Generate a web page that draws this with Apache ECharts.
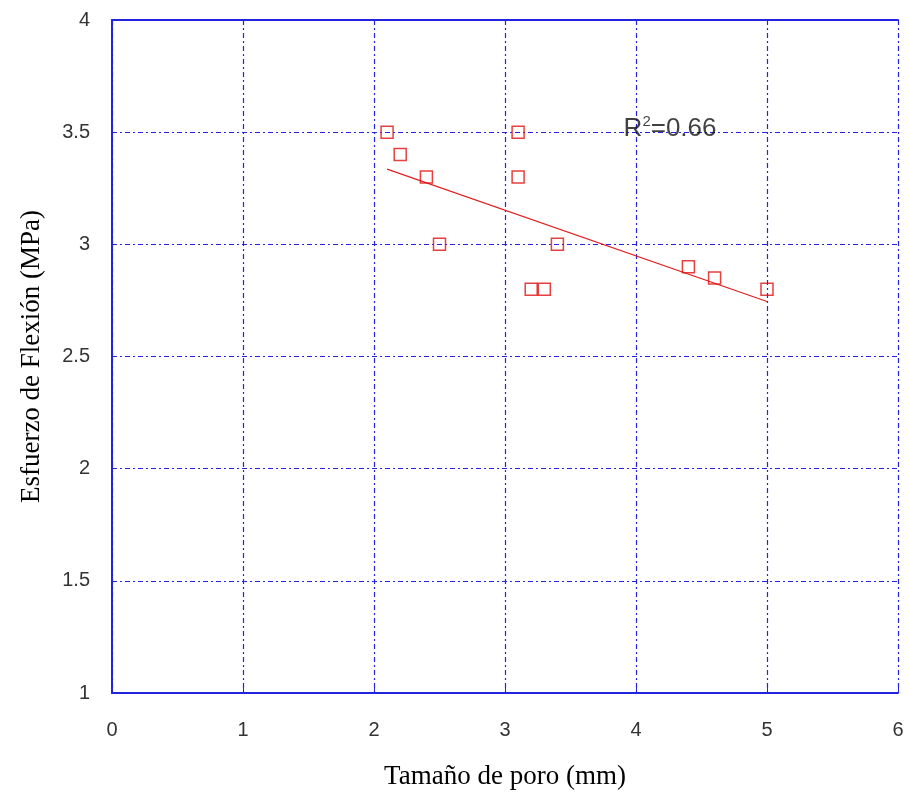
<!DOCTYPE html>
<html>
<head>
<meta charset="utf-8">
<script src="https://cdn.jsdelivr.net/npm/echarts@6/dist/echarts.min.js"></script>
<style>
  html, body { margin: 0; padding: 0; background: #fff; }
  #chart { width: 909px; height: 794px; }
</style>
</head>
<body>
<div id="chart"></div>
<script>
// datos
const poreSize = [2.1, 2.2, 2.4, 2.5, 3.1, 3.1, 3.2, 3.3, 3.4, 4.4, 4.6, 5.0]
const flexStress = [3.5, 3.4, 3.3, 3.0, 3.5, 3.3, 2.8, 2.8, 3.0, 2.9, 2.85, 2.8]
const trendX = [2.1, 5.0]
const trendY = [3.335, 2.745]
const r2Pos = [4.26, 3.515]

const blue = '#2424e0'
const gridLine = { lineStyle: { color: blue, width: 1.2, type: [5, 3, 2, 3] } }
const boxAxis = { show: true, lineStyle: { color: blue, width: 2 } }

const myChart = echarts.init(document.getElementById('chart'))
myChart.setOption({
  animation: false,
  grid: { left: 112, right: 11, top: 20, bottom: 101, containLabel: false, outerBoundsMode: 'none' },
  xAxis: [{
    type: 'value',
    min: 0,
    max: 6,
    interval: 1,
    name: 'Tamaño de poro (mm)',
    nameLocation: 'middle',
    nameGap: 70,
    nameTextStyle: { fontFamily: 'Liberation Serif', fontSize: 27, color: '#000' },
    axisLine: boxAxis,
    axisTick: { show: true, inside: true, length: 8, lineStyle: { color: blue } },
    axisLabel: { margin: 27, fontFamily: 'Liberation Sans', fontSize: 20, color: '#333' },
    splitLine: gridLine
  }, {
    // borde superior
    type: 'value', position: 'top', min: 0, max: 6,
    axisLine: boxAxis, axisTick: { show: false }, axisLabel: { show: false }, splitLine: { show: false }
  }],
  yAxis: [{
    type: 'value',
    min: 1,
    max: 4,
    interval: 0.5,
    name: 'Esfuerzo de Flexión (MPa)',
    nameLocation: 'middle',
    nameGap: 67,
    nameTextStyle: { fontFamily: 'Liberation Serif', fontSize: 27, color: '#000' },
    axisLine: boxAxis,
    axisTick: { show: false },
    axisLabel: { margin: 22, fontFamily: 'Liberation Sans', fontSize: 20, color: '#333' },
    splitLine: gridLine
  }, {
    // borde derecho
    type: 'value', position: 'right', min: 1, max: 4,
    axisLine: boxAxis, axisTick: { show: false }, axisLabel: { show: false }, splitLine: { show: false }
  }],
  series: [
    {
      type: 'scatter',
      symbol: 'rect',
      symbolSize: 12,
      itemStyle: { color: 'transparent', borderColor: '#e01010', borderWidth: 1.5 },
      data: poreSize.map((x, i) => [x, flexStress[i]]),
      z: 3
    },
    {
      type: 'line',
      showSymbol: false,
      symbol: 'none',
      lineStyle: { color: '#e02020', width: 1.2 },
      data: trendX.map((x, i) => [x, trendY[i]]),
      z: 2
    },
    {
      type: 'scatter',
      symbol: 'circle',
      symbolSize: 2,
      itemStyle: { color: 'transparent' },
      data: [r2Pos],
      label: {
        show: true,
        position: 'inside',
        formatter: '{m|R}{s|2}{m|=0.66}',
        rich: {
          m: { fontFamily: 'Liberation Sans', fontSize: 26, color: '#111' },
          s: { fontFamily: 'Liberation Sans', fontSize: 15, color: '#111', verticalAlign: 'top', padding: [0, 0, 14, 0] }
        }
      },
      z: 4
    }
  ]
})
</script>
</body>
</html>
